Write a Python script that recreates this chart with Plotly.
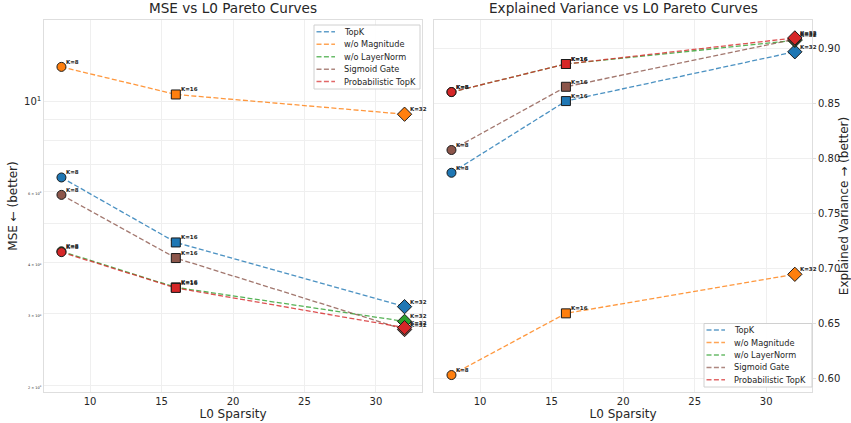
import math
import plotly.graph_objects as go

# ---------------- data ----------------
L0 = [8, 16, 32]
K_LABELS = ["K=8", "K=16", "K=32"]
METHODS = ["TopK", "w/o Magnitude", "w/o LayerNorm", "Sigmoid Gate", "Probabilistic TopK"]
COLORS = ["#1f77b4", "#ff7f0e", "#2ca02c", "#8c564b", "#d62728"]

mse_topk = [6.49, 4.49, 3.12]
mse_wo_mag = [12.15, 10.39, 9.29]
mse_wo_ln = [4.27, 3.48, 2.87]
mse_sigmoid = [5.88, 4.11, 2.74]
mse_prob = [4.25, 3.47, 2.77]

ev_topk = [0.7866, 0.8518, 0.8966]
ev_wo_mag = [0.6027, 0.6588, 0.6943]
ev_wo_ln = [0.860, 0.8855, 0.907]
ev_sigmoid = [0.8073, 0.8648, 0.908]
ev_prob = [0.860, 0.8855, 0.9092]

MSE = [mse_topk, mse_wo_mag, mse_wo_ln, mse_sigmoid, mse_prob]
EV = [ev_topk, ev_wo_mag, ev_wo_ln, ev_sigmoid, ev_prob]

x_ticks = [10, 15, 20, 25, 30]
ev_ticks = [0.60, 0.65, 0.70, 0.75, 0.80, 0.85, 0.90]
mse_grid = [2, 3, 4, 5, 6, 7, 8, 9, 10]
mse_labels = {2: "2 × 10<sup>0</sup>", 3: "3 × 10<sup>0</sup>", 4: "4 × 10<sup>0</sup>",
              6: "6 × 10<sup>0</sup>", 10: "10<sup>1</sup>"}

W, H = 851, 423
FONT = "DejaVu Sans"
TXT = "#262626"
GRID = "#efefef"
FRAME = "#dedede"

SYMBOLS = ["circle", "square", "diamond"]
SIZES = [9, 9, 11]
DASH = "5px,2.4px"

fig = go.Figure()


def px(x):
    return x / W


def py(y):
    return 1 - y / H


def add_panel(data, xa, ya, log_y):
    for name, col, vals in zip(METHODS, COLORS, data):
        fig.add_trace(go.Scatter(
            x=L0, y=vals, mode="lines", xaxis=xa, yaxis=ya, name=name,
            line=dict(color=col, width=1.3, dash=DASH), opacity=0.8,
            showlegend=False, hoverinfo="skip"))
        fig.add_trace(go.Scatter(
            x=L0, y=vals, mode="markers", xaxis=xa, yaxis=ya, name=name,
            marker=dict(color=col, symbol=SYMBOLS, size=SIZES, opacity=1,
                        line=dict(color="#1a1a1a", width=1)),
            showlegend=False))
        for xv, yv, lab in zip(L0, vals, K_LABELS):
            fig.add_annotation(
                x=xv, y=math.log10(yv) if log_y else yv, xref=xa, yref=ya,
                text="<b>" + lab + "</b>",
                showarrow=False, xanchor="left", yanchor="middle",
                xshift=3, yshift=5, font=dict(size=5.5, color=TXT, family=FONT))


add_panel(MSE, "x", "y", True)
add_panel(EV, "x2", "y2", False)


def add_legend(box, line_x0, line_x1, text_x, rows):
    x0, y0, x1, y1 = box
    fig.add_shape(type="rect", xref="paper", yref="paper",
                  x0=px(x0), x1=px(x1), y0=py(y1), y1=py(y0),
                  fillcolor="rgba(255,255,255,0.9)", line=dict(color="#d0d0d0", width=1),
                  layer="above")
    for name, col, yy in zip(METHODS, COLORS, rows):
        fig.add_shape(type="line", xref="paper", yref="paper",
                      x0=px(line_x0), x1=px(line_x1), y0=py(yy), y1=py(yy),
                      line=dict(color=col, width=1.5, dash=DASH), opacity=0.7, layer="above")
        fig.add_annotation(x=px(text_x), y=py(yy), xref="paper", yref="paper",
                           text=name, showarrow=False, xanchor="left", yanchor="middle",
                           font=dict(size=8.2, color=TXT, family=FONT))


add_legend((314, 25, 420, 89), 316.5, 335, 341.5, [31.8, 44.3, 56.7, 69.2, 81.5])
add_legend((704, 323.5, 812, 387), 706.5, 725, 731.5, [330, 342.6, 355, 367.4, 379.8])

axis_common = dict(showline=True, linecolor=FRAME, linewidth=1, mirror=True,
                   showgrid=True, gridcolor=GRID, gridwidth=1, zeroline=False,
                   tickfont=dict(size=10, color=TXT, family=FONT), automargin=False,
                   ticks="")

x_dom1 = [44.3 / W, 421.7 / W]
x_dom2 = [434.3 / W, 812 / W]
y_dom = [1 - 392 / H, 1 - 20 / H]

fig.update_layout(
    width=W, height=H,
    margin=dict(l=0, r=0, t=0, b=0),
    paper_bgcolor="white", plot_bgcolor="white",
    font=dict(family=FONT, color=TXT),
    showlegend=False,
    xaxis=dict(domain=x_dom1, range=[6.8, 33.2], tickvals=x_ticks,
               anchor="y", title=dict(text="L0 Sparsity", font=dict(size=12), standoff=2),
               **axis_common),
    yaxis=dict(domain=y_dom, type="log", range=[0.284, 1.2], anchor="x",
               tickvals=mse_grid,
               ticktext=[('<span style="font-size:3.5px">' + mse_labels[v] + "</span>")
                         if v in mse_labels and v != 10 else mse_labels.get(v, "")
                         for v in mse_grid],
               title=dict(text="MSE ← (better)", font=dict(size=12), standoff=3),
               **axis_common),
    xaxis2=dict(domain=x_dom2, range=[6.8, 33.2], tickvals=x_ticks,
                anchor="y2", title=dict(text="L0 Sparsity", font=dict(size=12), standoff=2),
                **axis_common),
    yaxis2=dict(domain=y_dom, range=[0.5873, 0.9255], anchor="x2", side="right",
                tickvals=ev_ticks, tickformat=".2f",
                title=dict(text="Explained Variance → (better)", font=dict(size=12), standoff=4),
                **{**axis_common, "ticks": "outside", "ticklen": 3, "tickcolor": FRAME}),
)

fig.add_annotation(x=(x_dom1[0] + x_dom1[1]) / 2, y=py(8), xref="paper", yref="paper",
                   text="MSE vs L0 Pareto Curves", showarrow=False, xanchor="center",
                   font=dict(size=13.6, color=TXT, family=FONT), yanchor="middle")
fig.add_annotation(x=(x_dom2[0] + x_dom2[1]) / 2, y=py(8), xref="paper", yref="paper",
                   text="Explained Variance vs L0 Pareto Curves", showarrow=False, xanchor="center",
                   font=dict(size=13.6, color=TXT, family=FONT), yanchor="middle")

fig.write_html("out.html")
